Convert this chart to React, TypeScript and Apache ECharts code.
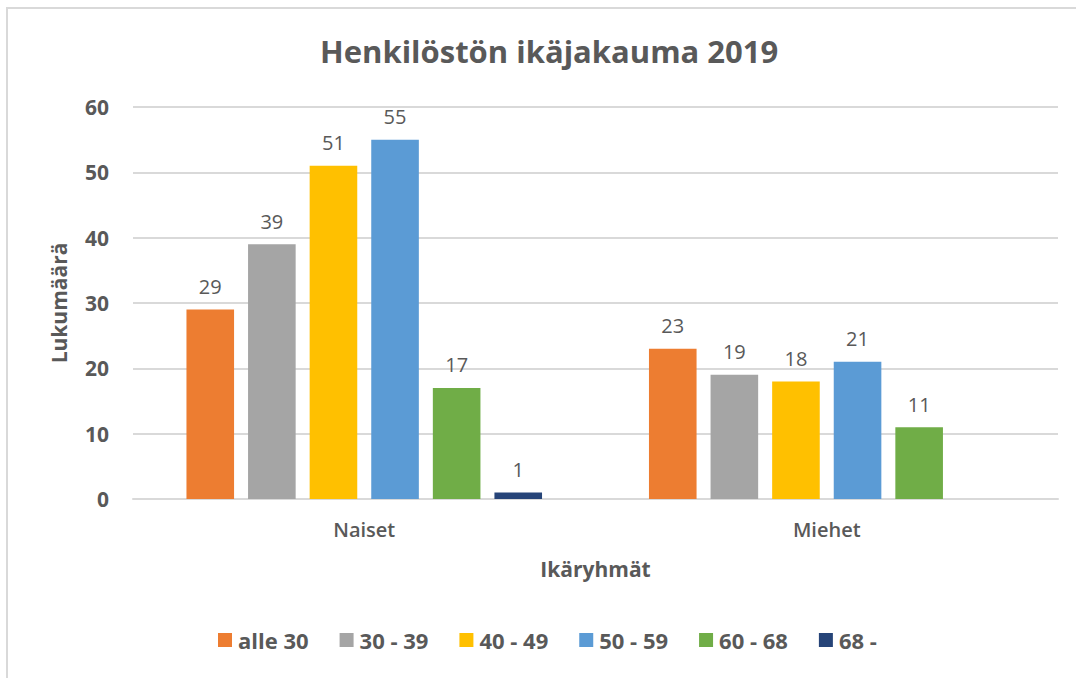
import React, { useEffect, useRef } from "react";
import * as echarts from "echarts";

const categories = ["Naiset", "Miehet"];
const seriesNames = ["alle 30", "30 - 39", "40 - 49", "50 - 59", "60 - 68", "68 -"];
const alle30 = [29, 23];
const v30_39 = [39, 19];
const v40_49 = [51, 18];
const v50_59 = [55, 21];
const v60_68 = [17, 11];
const v68 = [1, null];
const seriesValues = [alle30, v30_39, v40_49, v50_59, v60_68, v68];
const colors = ["#ED7D31", "#A5A5A5", "#FFC000", "#5B9BD5", "#70AD47", "#264478"];
const yTicks = { min: 0, max: 60, interval: 10 };

const TXT = "#595959";
const FONT = "'Open Sans', 'Noto Sans', sans-serif";

export default function App() {
  const ref = useRef<HTMLDivElement>(null);
  useEffect(() => {
    if (!ref.current) return;
    const chart = echarts.init(ref.current, null, { renderer: "svg" });
    chart.setOption({
      animation: false,
      textStyle: { fontFamily: FONT, color: TXT },
      title: {
        text: "Henkilöstön ikäjakauma 2019",
        left: 315,
        top: 30,
        textStyle: { fontFamily: FONT, fontSize: 31, fontWeight: "bold", color: TXT },
      },
      legend: {
        bottom: 22,
        left: 213,
        itemWidth: 14,
        itemHeight: 14,
        itemGap: 31,
        icon: "rect",
        textStyle: { fontFamily: FONT, fontSize: 22, fontWeight: "bold", color: TXT, padding: [0, 0, 0, 1] },
        data: seriesNames,
      },
      grid: { left: 133, right: 18, top: 107, bottom: 179 },
      xAxis: {
        type: "category",
        data: categories,
        name: "Ikäryhmät",
        nameLocation: "middle",
        nameGap: 59,
        nameTextStyle: { fontFamily: FONT, fontSize: 21, fontWeight: "bold", color: TXT },
        axisLine: { show: true, lineStyle: { color: "#d9d9d9", width: 2 } },
        axisTick: { show: false },
        axisLabel: { fontFamily: FONT, fontSize: 20, fontWeight: 600, color: TXT, margin: 20 },
      },
      yAxis: {
        type: "value",
        min: yTicks.min,
        max: yTicks.max,
        interval: yTicks.interval,
        name: "Lukumäärä",
        nameLocation: "middle",
        nameGap: 64,
        nameTextStyle: { fontFamily: FONT, fontSize: 21, fontWeight: "bold", color: TXT },
        axisLine: { show: false },
        axisTick: { show: false },
        axisLabel: { fontFamily: FONT, fontSize: 21, fontWeight: "bold", color: TXT, margin: 24 },
        splitLine: { lineStyle: { color: "#d9d9d9", width: 2 } },
      },
      series: seriesNames.map((name, i) => ({
        name,
        type: "bar",
        data: seriesValues[i],
        barWidth: 47.6,
        barGap: "29.4%",
        itemStyle: { color: colors[i] },
        label: {
          show: true,
          position: "top",
          distance: 13,
          fontFamily: FONT,
          fontSize: 20,
          color: TXT,
        },
      })),
    });
    return () => chart.dispose();
  }, []);
  return (
    <div
      style={{
        position: "fixed",
        left: 0,
        top: 0,
        width: 1076,
        height: 678,
        overflow: "hidden",
        background: "#fff",
      }}
    >
      <div
        style={{
          position: "absolute",
          left: 6,
          top: 7,
          width: 1200,
          height: 800,
          border: "2px solid #d9d9d9",
        }}
      />
      <div ref={ref} style={{ position: "absolute", left: 0, top: 0, width: 1076, height: 678 }} />
    </div>
  );
}
